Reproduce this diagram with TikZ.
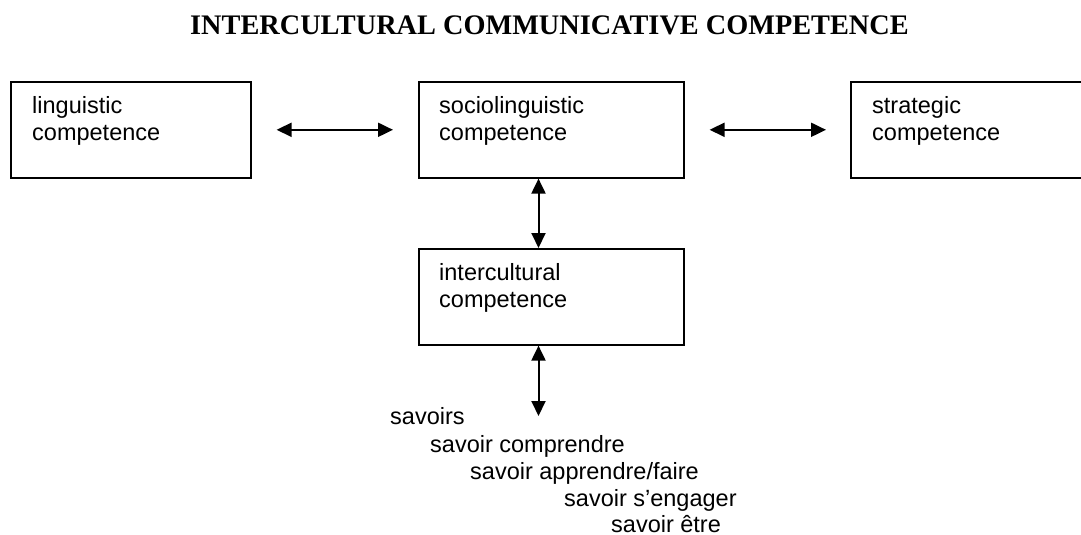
\documentclass[tikz,border=0pt]{standalone}
\usepackage{fontspec}
\setmainfont{Liberation Sans}
\newfontfamily\titlefont{Liberation Serif}
\usetikzlibrary{arrows.meta}
\tikzset{
  box/.style={draw=black, line width=1.6pt, fill=white, rectangle, inner sep=0pt, anchor=north west},
  lbl/.style={anchor=base west, inner sep=0pt, font=\fontsize{23.5}{27}\selectfont},
  arr/.style={line width=2pt, {Triangle[length=15pt,width=14pt]}-{Triangle[length=15pt,width=14pt]}},
  arrdown/.style={line width=2pt, -{Triangle[length=15pt,width=14pt]}}
}
\begin{document}
\begin{tikzpicture}[x=1pt,y=-1pt]
\clip (0,0) rectangle (1081,535);
\useasboundingbox (0,0) rectangle (1081,535);
\fill[white] (0,0) rectangle (1081,535);
% title
\node[anchor=base west, inner sep=0pt, font=\titlefont\bfseries\fontsize{28.3}{32}\selectfont] (title) at (190,35) {INTERCULTURAL COMMUNICATIVE COMPETENCE};
% boxes
\node[box, minimum width=240pt, minimum height=96pt] (ling) at (10,81) {};
\node[box, minimum width=265pt, minimum height=96pt] (socio) at (418,81) {};
\node[box, minimum width=260pt, minimum height=96pt] (strat) at (850,81) {};
\node[box, minimum width=265pt, minimum height=96pt] (inter) at (418,248) {};
% labels
\node[lbl] (lingt) at (32,113) {\begin{tabular}[t]{@{}l@{}}linguistic\\competence\end{tabular}};
\node[lbl] (sociot) at (439,113) {\begin{tabular}[t]{@{}l@{}}sociolinguistic\\competence\end{tabular}};
\node[lbl] (stratt) at (872,113) {\begin{tabular}[t]{@{}l@{}}strategic\\competence\end{tabular}};
\node[lbl] (intert) at (439,280) {\begin{tabular}[t]{@{}l@{}}intercultural\\competence\end{tabular}};
% savoirs
\node[lbl] (s1) at (390,424) {savoirs};
\node[lbl] (s2) at (430,452) {savoir comprendre};
\node[lbl] (s3) at (470,479) {savoir apprendre/faire};
\node[lbl] (s4) at (564,506) {savoir s’engager};
\node[lbl] (s5) at (611,532) {savoir être};
% connectors
\coordinate (vx) at (538.5,0);
\coordinate (vend) at (538.5,416);
\draw[arr] ([xshift=25pt]ling.east) -- ([xshift=-25pt]socio.west);
\draw[arr] ([xshift=25pt]socio.east) -- ([xshift=-24pt]strat.west);
\draw[arr] (socio.south -| vx) -- (inter.north -| vx);
\draw[arr] (inter.south -| vx) -- (vend);
\end{tikzpicture}
\end{document}
